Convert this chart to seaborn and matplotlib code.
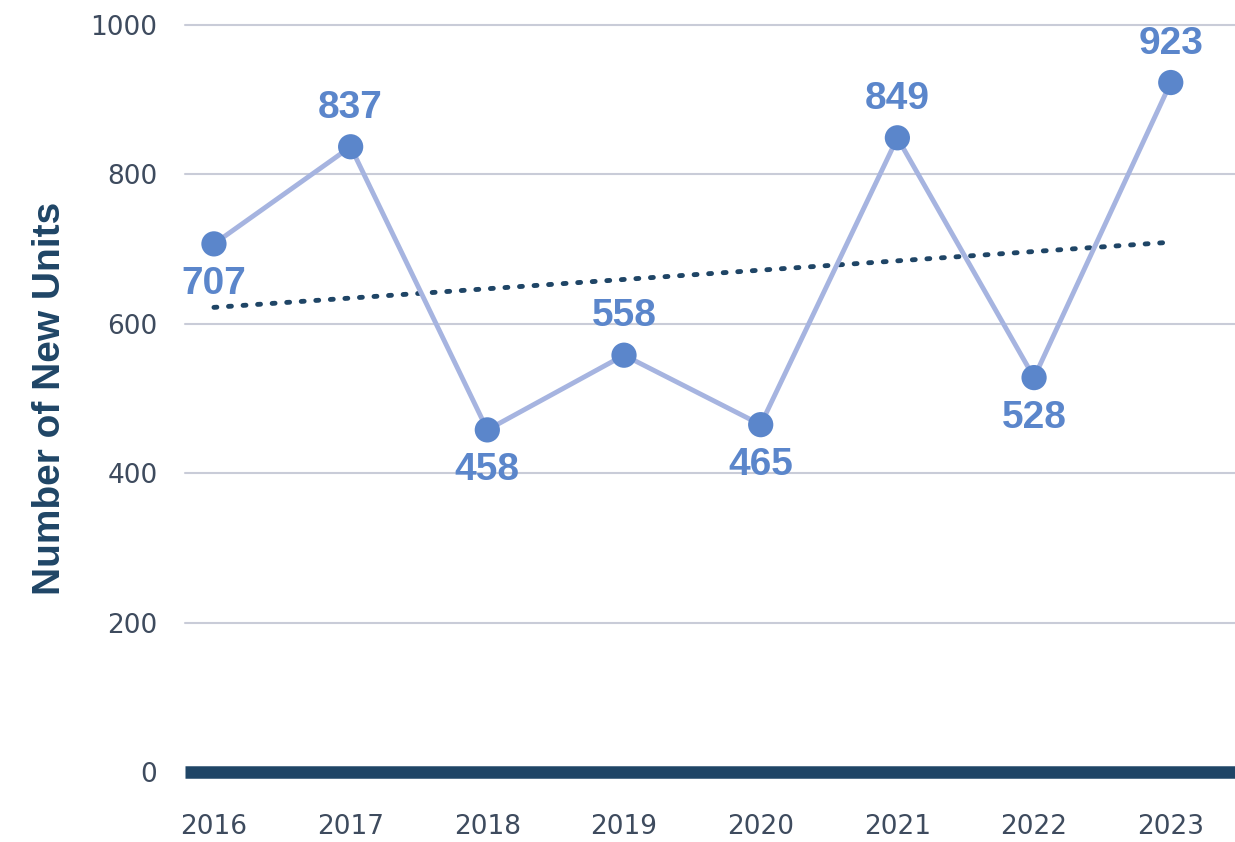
import numpy as np
import pandas as pd
import matplotlib
matplotlib.use("Agg")
import matplotlib.pyplot as plt
import seaborn as sns

years = ["2016", "2017", "2018", "2019", "2020", "2021", "2022", "2023"]
units = [707, 837, 458, 558, 465, 849, 528, 923]
label_side = ["below", "above", "below", "above", "below", "above", "below", "above"]

df = pd.DataFrame({"idx": np.arange(len(years)), "year": years, "units": units})

sns.set_style("white")
plt.rcParams["font.family"] = ["Liberation Sans", "DejaVu Sans"]

navy = "#1f4566"
line_col = "#a6b4e0"
dot_col = "#5b86cb"
grid_col = "#c9ccd8"
tick_col = "#3e4b5e"

fig = plt.figure(figsize=(12.35, 8.42), dpi=100)
ax = fig.add_axes([0.15, 0.0831, 0.85, 0.8872])

for v in [200, 400, 600, 800, 1000]:
    ax.axhline(v, color=grid_col, lw=1.5, zorder=0, clip_on=False)
ax.axhline(0, color=navy, lw=9, zorder=1, clip_on=False, solid_capstyle="butt")

# dotted linear trend
sns.regplot(data=df, x="idx", y="units", scatter=False, ci=None, truncate=True,
            line_kws=dict(color=navy, linestyle=(0, (0.6, 2.4)), lw=3.5,
                          dash_capstyle="round"), ax=ax)
sns.lineplot(data=df, x="idx", y="units", color=line_col, lw=3.5, ax=ax, zorder=3)
sns.scatterplot(data=df, x="idx", y="units", color=dot_col, s=330, edgecolor="none",
                ax=ax, zorder=4)

for i, (v, side) in enumerate(zip(units, label_side)):
    off = 28 if side == "above" else -29
    ax.annotate(str(v), (i, v), xytext=(0, off), textcoords="offset points",
                ha="center", va="center", fontsize=28, fontweight="bold",
                color=dot_col, annotation_clip=False)

ax.set_xlim(-0.21, 7.47)
ax.set_ylim(0, 1000)
ax.set_xticks(df["idx"])
ax.set_xticklabels(years)
ax.set_yticks([0, 200, 400, 600, 800, 1000])
ax.tick_params(axis="both", length=0, labelsize=19, labelcolor=tick_col)
ax.tick_params(axis="x", pad=30)
ax.tick_params(axis="y", pad=20)
for t in ax.get_xticklabels() + ax.get_yticklabels():
    t.set_fontfamily("DejaVu Sans")
ax.set_xlabel("")
ax.set_ylabel("Number of New Units", fontsize=28, fontweight="bold", color=navy,
              labelpad=16)
sns.despine(ax=ax, left=True, bottom=True)

fig.savefig("out.png", dpi=100)
